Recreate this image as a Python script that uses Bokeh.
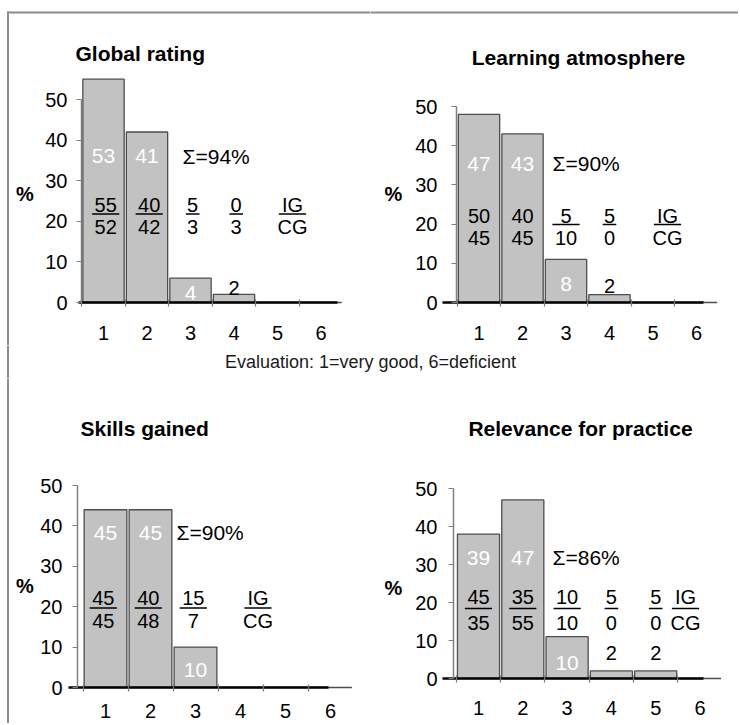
from bokeh.plotting import figure
from bokeh.models import LinearAxis, FixedTicker, Range1d
from bokeh.layouts import column, row
from bokeh.embed import file_html
from bokeh.resources import INLINE
from bokeh.core.properties import value

# ---------------- data ----------------
categories = [1, 2, 3, 4, 5, 6]
y_ticks = [0, 10, 20, 30, 40, 50]
axis_caption = "Evaluation: 1=very good, 6=deficient"
y_label = "%"
group_labels = ["IG", "CG"]

titles = ["Global rating", "Learning atmosphere", "Skills gained", "Relevance for practice"]

global_pct = [55, 42, 6, 2, 0, 0]
global_inner = ["53", "41", "4", "", "", ""]
global_outer = ["", "", "", "2", "", ""]
global_sum = "Σ=94%"
global_ig = ["55", "40", "5", "0"]
global_cg = ["52", "42", "3", "3"]

atmos_pct = [48, 43, 11, 2, 0, 0]
atmos_inner = ["47", "43", "8", "", "", ""]
atmos_outer = ["", "", "", "2", "", ""]
atmos_sum = "Σ=90%"
atmos_ig = ["50", "40", "5", "5"]
atmos_cg = ["45", "45", "10", "0"]

skills_pct = [44, 44, 10, 0, 0, 0]
skills_inner = ["45", "45", "10", "", "", ""]
skills_outer = ["", "", "", "", "", ""]
skills_sum = "Σ=90%"
skills_ig = ["45", "40", "15"]
skills_cg = ["45", "48", "7"]

relev_pct = [38, 47, 11, 2, 2, 0]
relev_inner = ["39", "47", "10", "", "", ""]
relev_outer = ["", "", "", "2", "2", ""]
relev_sum = "Σ=86%"
relev_ig = ["45", "35", "10", "5", "5"]
relev_cg = ["35", "55", "10", "0", "0"]

# ---------------- layout / style (pixel anchors) ----------------
FONT = "Liberation Sans"
BAR_FILL = "#c2c2c2"
BAR_LINE = "#4d4d4d"
BORDER = "#8c8c8c"
NUM_SIZE = "20px"
BIG_SIZE = "21px"

LAYOUT = [
    dict(box=(0, 0, 370, 345), c1=103, s=43.5, y0=302, k=4.06, yaxis=81, xaxis=(78, 337),
         title=(75, 53, "left"), pct=(24.5, 193), inner_hi=155, inner_lo=292, outer=287,
         sigma=(182, 156), num=204, bar=213.5, den=226, frac_dx=0.05, igcg=292,
         frac_line=[True, True, True, True], ystand=9, xstand=19, border=("top", "left")),
    dict(box=(370, 0, 368, 345), c1=478.5, s=43.5, y0=302, k=3.92, yaxis=456, xaxis=(442, 703),
         title=(578, 57, "center"), pct=(393, 193), inner_hi=163, inner_lo=283, outer=285,
         sigma=(552, 163), num=215, bar=224, den=237, frac_dx=0.0, igcg=667,
         frac_line=[False, False, True, True], ystand=14, xstand=19, border=("top",)),
    dict(box=(0, 378, 370, 345), c1=105, s=45, y0=687, k=4.04, yaxis=77, xaxis=(68, 328),
         title=(80, 428, "left"), pct=(24.5, 585), inner_hi=532, inner_lo=669, outer=660,
         sigma=(176, 532), num=597, bar=607.5, den=620, frac_dx=-0.05, igcg=257.5,
         frac_line=[True, True, True], ystand=10, xstand=12, border=("left",)),
    dict(box=(370, 378, 368, 345), c1=478, s=44.3, y0=678, k=3.8, yaxis=453, xaxis=(442, 703),
         title=(580, 428, "center"), pct=(393, 587), inner_hi=557, inner_lo=662, outer=652,
         sigma=(552, 557), num=596, bar=608, den=622, frac_dx=0.0, igcg=685,
         frac_line=[True, True, True, True, True], ystand=11, xstand=18, border=()),
]
MID_BOX = (0, 345, 738, 33)


def txt(p, xs, ys, texts, color="black", size=NUM_SIZE, align="center", style="normal"):
    if not texts:
        return
    p.text(x=xs, y=ys, text=texts, text_font=value(FONT), text_font_size=value(size),
           text_color=color, text_align=align, text_baseline="middle", text_font_style=style)


def make_panel(title, pct, inner, outer, sigma, ig, cg, L):
    left, top, W, H = L["box"]
    c1, s, y0, k = L["c1"], L["s"], L["y0"], L["k"]

    def X(px):
        return 1 + (px - c1) / s

    def Y(py):
        return (y0 - py) / k

    p = figure(width=W, height=H, x_range=Range1d(X(left), X(left + W)),
               y_range=Range1d(Y(top + H), Y(top)), x_axis_type=None, y_axis_type=None,
               output_backend="svg", toolbar_location=None, min_border=0)
    p.outline_line_color = None
    p.background_fill_color = "white"
    p.border_fill_color = "white"

    # bars
    p.vbar(x=categories, top=pct, width=0.95, fill_color=BAR_FILL,
           line_color=BAR_LINE, line_width=1.3)

    # axes
    xa = LinearAxis(fixed_location=0, bounds=(X(L["xaxis"][0]), X(L["xaxis"][1])),
                    ticker=FixedTicker(ticks=categories, minor_ticks=[c - 0.5 for c in categories]))
    xa.axis_line_color = "black"
    xa.axis_line_width = 2.5
    xa.major_tick_out = 0
    xa.major_tick_in = 0
    xa.minor_tick_out = 4
    xa.minor_tick_in = 3
    xa.minor_tick_line_color = "#777777"
    xa.minor_tick_line_width = 1.2
    xa.major_label_text_font = FONT
    xa.major_label_text_font_size = NUM_SIZE
    xa.major_label_text_color = "black"
    xa.major_label_standoff = L["xstand"]
    p.add_layout(xa, "below")

    ya = LinearAxis(fixed_location=X(L["yaxis"]), bounds=(0, 50), ticker=FixedTicker(ticks=y_ticks))
    ya.axis_line_color = "#808080"
    ya.axis_line_width = 1.5
    ya.major_tick_out = 5
    ya.major_tick_in = 0
    ya.major_tick_line_color = "#808080"
    ya.major_tick_line_width = 1.2
    ya.minor_tick_out = 0
    ya.minor_tick_in = 0
    ya.major_label_text_font = FONT
    ya.major_label_text_font_size = NUM_SIZE
    ya.major_label_text_color = "black"
    ya.major_label_standoff = L["ystand"]
    p.add_layout(ya, "left")

    # title and % label
    tx, ty, talign = L["title"]
    txt(p, [X(tx)], [Y(ty)], [title], size="21px", align=talign, style="bold")
    txt(p, [X(L["pct"][0])], [Y(L["pct"][1])], [y_label], style="bold")

    # white labels inside bars
    ix = [c for c, t in zip(categories, inner) if t]
    iy = [Y(L["inner_hi"]) if v > 20 else Y(L["inner_lo"]) for v, t in zip(pct, inner) if t]
    txt(p, ix, iy, [t for t in inner if t], color="white", size=BIG_SIZE)

    # black labels above small bars
    ox = [c for c, t in zip(categories, outer) if t]
    txt(p, ox, [Y(L["outer"])] * len(ox), [t for t in outer if t])

    # sum
    txt(p, [X(L["sigma"][0])], [Y(L["sigma"][1])], [sigma], size=BIG_SIZE, align="left")

    # fractions IG / CG
    n = len(ig)
    fx = [c + L["frac_dx"] for c in categories[:n]] + [X(L["igcg"])]
    nums = ig + [group_labels[0]]
    dens = cg + [group_labels[1]]
    txt(p, fx, [Y(L["num"])] * len(fx), nums)
    txt(p, fx, [Y(L["den"])] * len(fx), dens)
    flags = L["frac_line"] + [True]
    half = [6.8 * max(len(a), len(b)) / s for a, b in zip(nums, dens)]
    lx0 = [x - h for x, h, f in zip(fx, half, flags) if f]
    lx1 = [x + h for x, h, f in zip(fx, half, flags) if f]
    ly = [Y(L["bar"])] * len(lx0)
    p.segment(x0=lx0, y0=ly, x1=lx1, y1=ly, line_color="black", line_width=1.5)

    # frame border (decoration)
    if "top" in L["border"]:
        p.segment(x0=[X(6.5)], y0=[Y(12)], x1=[X(left + W)], y1=[Y(12)],
                  line_color=BORDER, line_width=2)
    if "left" in L["border"]:
        p.segment(x0=[X(7.5)], y0=[Y(max(top, 11))], x1=[X(7.5)], y1=[Y(top + H)],
                  line_color=BORDER, line_width=2)
    return p


panels_data = [
    (titles[0], global_pct, global_inner, global_outer, global_sum, global_ig, global_cg),
    (titles[1], atmos_pct, atmos_inner, atmos_outer, atmos_sum, atmos_ig, atmos_cg),
    (titles[2], skills_pct, skills_inner, skills_outer, skills_sum, skills_ig, skills_cg),
    (titles[3], relev_pct, relev_inner, relev_outer, relev_sum, relev_ig, relev_cg),
]
figs = [make_panel(*d, L) for d, L in zip(panels_data, LAYOUT)]

# middle strip with the evaluation caption
ml, mt, mw, mh = MID_BOX
mid = figure(width=mw, height=mh, x_range=Range1d(ml, ml + mw), y_range=Range1d(-(mt + mh), -mt),
             x_axis_type=None, y_axis_type=None, output_backend="svg",
             toolbar_location=None, min_border=0)
mid.outline_line_color = None
mid.text(x=[370], y=[-361], text=[axis_caption], text_font=value(FONT),
         text_font_size=value("18px"), text_color="#1a1a1a", text_align="center",
         text_baseline="middle")
mid.segment(x0=[7.5], y0=[-mt], x1=[7.5], y1=[-(mt + mh)], line_color=BORDER, line_width=2)

layout = column(row(figs[0], figs[1], spacing=0), mid, row(figs[2], figs[3], spacing=0), spacing=0)

open("out.html", "w").write(file_html(layout, INLINE))
